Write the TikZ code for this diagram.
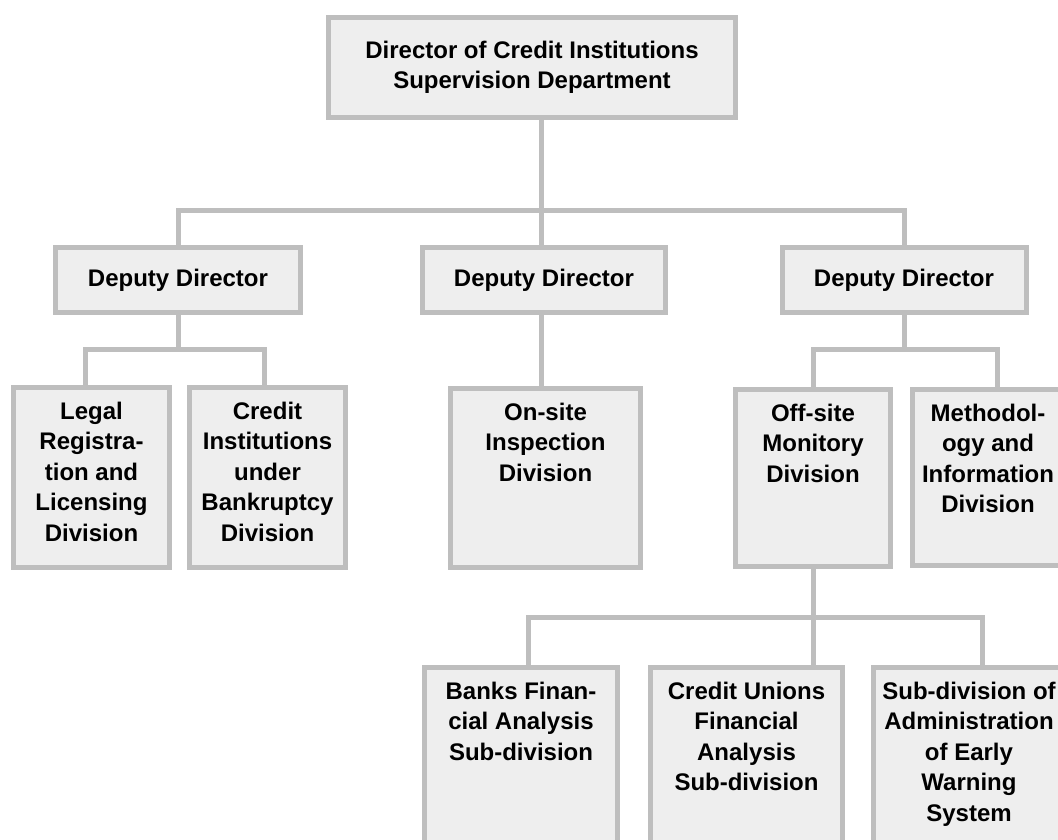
\documentclass[tikz,border=0pt]{standalone}
\usepackage{fontspec}
\setmainfont{Liberation Sans}
\definecolor{lgray}{HTML}{BEBEBE}
\definecolor{boxfill}{HTML}{EEEEEE}
\tikzset{
  box/.style={draw=lgray, fill=boxfill, line width=5bp, inner sep=0pt, align=center,
    font=\fontsize{24bp}{30.5bp}\selectfont\bfseries},
  txt/.style={anchor=north, inner sep=0pt, align=center,
    font=\fontsize{24bp}{30.5bp}\selectfont\bfseries},
  conn/.style={draw=lgray, line width=5bp, line join=miter}
}
\begin{document}
\begin{tikzpicture}[x=1bp, y=-1bp]
\clip (0,0) rectangle (1058,840);
\fill[white] (0,0) rectangle (1058,840);
% top
\node[box, minimum width=407bp, minimum height=100bp] (top) at (532,67.5) {Director of Credit Institutions\\Supervision Department};
% deputies
\node[box, minimum width=245bp, minimum height=65bp] (dd1) at (178,280) {Deputy Director};
\node[box, minimum width=243bp, minimum height=65bp] (dd2) at (544,280) {Deputy Director};
\node[box, minimum width=244bp, minimum height=65bp] (dd3) at (904,280) {Deputy Director};
% divisions
\node[box, minimum width=156bp, minimum height=180bp] (legal) at (91.5,477.5) {};
\node[box, minimum width=156bp, minimum height=180bp] (credit) at (267.5,477.5) {};
\node[box, minimum width=190bp, minimum height=179bp] (onsite) at (545.5,478) {};
\node[box, minimum width=155bp, minimum height=177bp] (offsite) at (813,478) {};
\node[box, minimum width=151bp, minimum height=176bp] (method) at (988,477.5) {};
% sub-divisions
\node[box, minimum width=193bp, minimum height=235bp] (banks) at (521,785) {};
\node[box, minimum width=192bp, minimum height=235bp] (cu) at (746.5,785) {};
\node[box, minimum width=191bp, minimum height=235bp] (sub) at (969,785) {};
% texts
\node[txt] (legalt) at ([yshift=-16.5bp]legal.north) {Legal\\Registra-\\tion and\\Licensing\\Division};
\node[txt] (creditt) at ([yshift=-16.5bp]credit.north) {Credit\\Institutions\\under\\Bankruptcy\\Division};
\node[txt] (onsitet) at ([yshift=-16.5bp]onsite.north) {On-site\\Inspection\\Division};
\node[txt] (offsitet) at ([yshift=-16.5bp]offsite.north) {Off-site\\Monitory\\Division};
\node[txt] (methodt) at ([yshift=-16.5bp]method.north) {Methodol-\\ogy and\\Information\\Division};
\node[txt] (bankst) at ([yshift=-16.5bp]banks.north) {Banks Finan-\\cial Analysis\\Sub-division};
\node[txt] (cut) at ([yshift=-16.5bp]cu.north) {Credit Unions\\Financial\\Analysis\\Sub-division};
\node[txt] (subt) at ([yshift=-16.5bp]sub.north) {Sub-division of\\Administration\\of Early\\Warning\\System};
% junctions
\coordinate (j1) at (541.5,210);
\coordinate (j2) at (178,349.5);
\coordinate (j3) at (904,349.5);
\coordinate (j4) at (813,617);
% connectors
\draw[conn] (top.south -| j1) -- (j1);
\draw[conn] (dd1.north) |- (j1) -| (dd3.north);
\draw[conn] (j1) -- (j1 |- dd2.north);
\draw[conn] (dd1.south) -- (j2);
\draw[conn] ([xshift=-6.5bp]legal.north) |- (j2) -| ([xshift=-3.5bp]credit.north);
\draw[conn] (j1 |- dd2.south) -- (j1 |- onsite.north);
\draw[conn] (dd3.south) -- (j3);
\draw[conn] (offsite.north) |- (j3) -| ([xshift=9bp]method.north);
\draw[conn] (offsite.south) -- (j4);
\draw[conn] ([xshift=7bp]banks.north) |- (j4) -| ([xshift=13bp]sub.north);
\draw[conn] (j4) -- (j4 |- cu.north);
\end{tikzpicture}
\end{document}
